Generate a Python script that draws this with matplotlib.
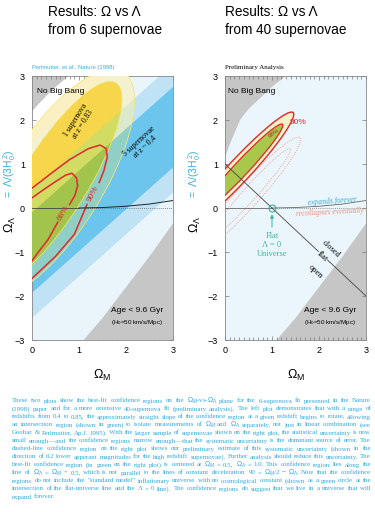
import numpy as np
import matplotlib.pyplot as plt
from matplotlib.patches import Polygon, Ellipse

plt.rcParams['font.family'] = ['Liberation Sans', 'DejaVu Sans']
plt.rcParams['mathtext.fontset'] = 'custom'
plt.rcParams['mathtext.rm'] = 'Liberation Sans'
plt.rcParams['mathtext.it'] = 'Liberation Sans:italic'

# ---- values (Omega_M, Omega_Lambda) ----
# "No Big Bang" boundary
nbb_m = [0.0, 0.1, 0.2, 0.32, 0.5, 0.8, 1.05, 1.3]
nbb_l = [1.15, 1.45, 1.7, 2.0, 2.25, 2.55, 2.8, 3.0]
# "Age < 9.6 Gyr" boundary
age_m = [1.1, 1.5, 2.0, 2.5, 3.0]
age_l = [-3.0, -2.5, -1.8, -1.1, -0.35]
# expands forever / recollapses eventually boundary
exp_m = [1.0, 1.5, 2.0, 2.5, 3.0]
exp_l = [0.0, 0.01, 0.04, 0.09, 0.17]
# flat universe line
flat_m = [0.0, 3.0]
flat_l = [1.0, -2.0]

# left: 5 supernovae at z~0.4, bands Omega_L = 0.95*Omega_M + c
band_slope = 0.95
band_lo = [-4.5, -2.5, -1.93]
band_hi = [1.5, 0.42, -0.1]
band_col = ['#e9f5fb', '#bfe3f5', '#6cc5ec']

# left: 1 supernova at z=0.83 (centre, angle, semi axes per level)
sn1_center = (0.45, 0.55)
sn1_angle = 60
sn1_major = [3.3, 2.95, 2.65]
sn1_minor = [1.3, 1.05, 0.72]
sn1_col = ['#ffffff', '#fbf0c4', '#fcd443']
# overlap colours [level][band]
mix_col = [[None, None, None],
           ['#f3f1d0', '#dbeacb', '#8fcfc6'],
           ['#f7d64b', '#d3dc62', '#a3c44c']]

# left: combined fit contours (split where the labels sit)
c68_m1 = [0.0, 0.25, 0.5, 0.72, 0.85, 0.95, 0.97, 0.91, 0.8]
c68_l1 = [0.23, 0.42, 0.6, 0.75, 0.79, 0.68, 0.5, 0.28, 0.08]
c68_m2 = [0.55, 0.34, 0.15, 0.0]
c68_l2 = [-0.32, -0.72, -0.98, -1.2]
c90_m1 = [0.0, 0.4, 0.8, 1.2, 1.45, 1.58, 1.6, 1.53, 1.43]
c90_l1 = [0.45, 0.78, 1.1, 1.35, 1.43, 1.35, 1.15, 0.85, 0.58]
c90_m2 = [1.17, 0.9, 0.5, 0.0]
c90_l2 = [0.08, -0.6, -1.1, -1.6]

# right: 40 supernovae fit (centre m, centre l, semi-major, semi-minor, angle)
fit90 = (0.3, 0.85, 1.75, 0.25, 49)
fit68 = (0.35, 0.9, 1.33, 0.16, 49)
sys90 = (0.5, 0.3, 1.7, 0.25, 50)
sys68 = (0.55, 0.35, 1.3, 0.15, 50)

W, H = 375, 512
fig = plt.figure(figsize=(W / 100, H / 100), dpi=100)


def px_axes(x0, x1, y0, y1):
    return fig.add_axes([x0 / W, 1 - y1 / H, (x1 - x0) / W, (y1 - y0) / H])


def style(ax):
    ax.set_xlim(0, 3)
    ax.set_ylim(-3, 3)
    ax.set_xticks([0, 1, 2, 3])
    ax.set_yticks([-3, -2, -1, 0, 1, 2, 3])
    ax.set_xticks(np.arange(0, 3.01, 0.1), minor=True)
    ax.tick_params(which='both', direction='in', top=True, right=True,
                   colors='#777777', labelcolor='black', labelsize=6.5, width=0.5)
    ax.tick_params(which='major', length=3, pad=4)
    ax.tick_params(which='minor', length=2)
    ax.tick_params(axis='y', pad=5)
    for s in ax.spines.values():
        s.set_color('#888888')
        s.set_linewidth(0.6)


def band_poly(lo, hi):
    s = band_slope
    return [(-1, -s + lo), (4, 4 * s + lo), (4, 4 * s + hi), (-1, -s + hi)]


nbb_poly = list(zip(nbb_m, nbb_l)) + [(nbb_m[-1], 3.5), (-0.5, 3.5), (-0.5, nbb_l[0])]
age_poly = list(zip(age_m, age_l)) + [(3.5, age_l[-1]), (3.5, -3.5), (age_m[0], -3.5)]

# ================= left panel =================
axL = px_axes(32, 173, 76, 340)
style(axL)
axL.set_facecolor('white')
axL.add_patch(Polygon(nbb_poly, closed=True, fc='#c6c6c6', ec='none', zorder=1))
axL.add_patch(Ellipse(sn1_center, 2 * sn1_major[0], 2 * sn1_minor[0], angle=sn1_angle,
                      fc=sn1_col[0], ec='none', zorder=1.5))
for lo, hi, c in zip(band_lo, band_hi, band_col):
    axL.add_patch(Polygon(band_poly(lo, hi), closed=True, fc=c, ec='none', zorder=2))
axL.add_patch(Polygon(age_poly, closed=True, fc='#c6c6c6', ec='none', zorder=3))

for lev in (1, 2):
    e = Ellipse(sn1_center, 2 * sn1_major[lev], 2 * sn1_minor[lev], angle=sn1_angle,
                fc=sn1_col[lev], ec='none', zorder=4 + lev)
    axL.add_patch(e)
    for b in range(3):
        clip = Polygon(band_poly(band_lo[b], band_hi[b]), closed=True, transform=axL.transData)
        eo = Ellipse(sn1_center, 2 * sn1_major[lev], 2 * sn1_minor[lev], angle=sn1_angle,
                     fc=mix_col[lev][b], ec='none', zorder=4.1 + lev + 0.1 * b)
        axL.add_patch(eo)
        eo.set_clip_path(clip)
    axL.add_patch(Ellipse(sn1_center, 2 * sn1_major[lev], 2 * sn1_minor[lev], angle=sn1_angle,
                          fill=False, ec='#f4e56c', lw=0.5, zorder=4.6 + lev))

red = '#e3262d'
for m, l in [(c68_m1, c68_l1), (c68_m2, c68_l2), (c90_m1, c90_l1), (c90_m2, c90_l2)]:
    axL.plot(m, l, color=red, lw=1.1, zorder=8)
axL.text(0.68, -0.12, '68%', color=red, fontsize=6, rotation=60, ha='center', va='center', zorder=9)
axL.text(1.3, 0.33, '90%', color=red, fontsize=6, rotation=63, ha='center', va='center', zorder=9)

axL.plot([0, 1], [0, 0], color='#444444', lw=0.6, zorder=8)
axL.plot([1, 3], [0, 0], color='#666666', lw=0.6, ls=(0, (1, 1.5)), zorder=8)
axL.plot(exp_m, exp_l, color='#222222', lw=0.7, zorder=8)

axL.text(0.1, 2.64, 'No Big Bang', fontsize=6, va='center', zorder=9)
axL.text(1.0, 1.95, '1 supernova\nat z = 0.83', fontsize=5.5, family='Liberation Serif',
         rotation=58, ha='center', va='center', ma='center', zorder=9, linespacing=1.1)
axL.text(2.34, 1.45, '5 supernovae\nat z ~ 0.4', fontsize=5.5, family='Liberation Serif',
         rotation=43, ha='center', va='center', ma='center', zorder=9, linespacing=1.1)
axL.text(2.24, -2.32, 'Age < 9.6 Gyr', fontsize=6, ha='center', va='center', zorder=9)
axL.text(2.24, -2.6, r'(H$_0$=50 km/s/Mpc)', fontsize=4.5, ha='center', va='center', zorder=9)

# ================= right panel =================
axR = px_axes(225, 366, 76, 340)
style(axR)
axR.set_facecolor('#eaf6fb')
axR.add_patch(Polygon(nbb_poly, closed=True, fc='#c6c6c6', ec='none', zorder=1))
axR.add_patch(Polygon(age_poly, closed=True, fc='#c6c6c6', ec='none', zorder=1))

for cm, cl, a, b, ang in (sys90, sys68):
    axR.add_patch(Ellipse((cm, cl), 2 * a, 2 * b, angle=ang, fill=False,
                          ec='#f2a39a', lw=0.7, ls=(0, (1, 1.2)), zorder=3))
cm, cl, a, b, ang = fit90
axR.add_patch(Ellipse((cm, cl), 2 * a, 2 * b, angle=ang, fc='#f6f1c6', ec=red, lw=1.0, zorder=4))
cm, cl, a, b, ang = fit68
axR.add_patch(Ellipse((cm, cl), 2 * a, 2 * b, angle=ang, fc='#a8c74b', ec=red, lw=0.9, zorder=5))
axR.text(1.55, 1.95, '90%', color=red, fontsize=6, ha='center', va='center', zorder=9)
axR.text(1.05, 1.7, '68%', color='#b0302a', fontsize=4.5, rotation=35, ha='center', va='center', zorder=9)

axR.plot([0, 1], [0, 0], color='#666666', lw=0.6, zorder=6)
axR.plot([1, 3], [0, 0], color='#777777', lw=0.6, ls=(0, (1, 1.5)), zorder=6)
axR.plot(exp_m, exp_l, color='#666666', lw=0.6, zorder=6)
axR.plot(flat_m, flat_l, color='#444444', lw=0.6, zorder=6)

teal = '#3bb3a3'
axR.plot([1], [0], marker='o', ms=5, mfc='none', mec=teal, mew=0.8, zorder=7)
axR.annotate('', xy=(1, -0.08), xytext=(1, -0.5),
             arrowprops=dict(arrowstyle='-|>', color=teal, lw=0.7, mutation_scale=5), zorder=7)
axR.text(1, -0.84, 'Flat\n\u039b = 0\nUniverse', color=teal, fontsize=6, family='Liberation Serif',
         ha='center', va='center', ma='center', linespacing=1.1, zorder=9)

axR.text(2.28, 0.16, 'expands forever', color='#35a7d9', fontsize=5.5, style='italic',
         family='Liberation Serif', rotation=4, ha='center', va='center', zorder=9)
axR.text(2.23, -0.09, 'recollapses eventually', color='#f08c76', fontsize=5.5, style='italic',
         family='Liberation Serif', rotation=3, ha='center', va='center', zorder=9)
for x, y, s in [(2.25, -0.92, 'closed'), (1.93, -1.45, 'open')]:
    axR.text(x, y, s, fontsize=6, family='Liberation Serif', rotation=-43,
             ha='center', va='center', zorder=9)
axR.text(2.07, -1.1, 'flat', fontsize=6, family='Liberation Serif', rotation=-43,
         ha='center', va='center', zorder=9,
         bbox=dict(fc='#eaf6fb', ec='none', pad=0.1))
axR.text(0.07, 2.64, 'No Big Bang', fontsize=6, va='center', zorder=9)
axR.text(2.24, -2.32, 'Age < 9.6 Gyr', fontsize=6, ha='center', va='center', zorder=9)
axR.text(2.24, -2.6, r'(H$_0$=50 km/s/Mpc)', fontsize=4.5, ha='center', va='center', zorder=9)

# ================= figure texts =================
def ftxt(x, y, s, **kw):
    return fig.text(x / W, 1 - y / H, s, **kw)


for x0, sub in [(48, 'from 6 supernovae'), (225, 'from 40 supernovae')]:
    ftxt(x0, 12, 'Results: \u03a9 vs \u039b', fontsize=9.8, va='center')
    ftxt(x0, 30, sub, fontsize=9.8, va='center')
ftxt(32, 67, 'Perlmutter, et al., Nature (1998)', fontsize=4.2, color='#3aaee0', va='center')
ftxt(225, 67, 'Preliminary Analysis', fontsize=5, family='Liberation Serif', va='center')

cyan = '#36aee0'
for xl, xc in [(10, 102), (195, 296)]:
    ftxt(xl, 224, r'$\Omega_\Lambda$', fontsize=9, rotation=90, ha='center', va='center')
    ftxt(xl, 174, r'$=\ \Lambda/(3\mathrm{H}_0^{\,2})$', fontsize=7.5, color=cyan,
         rotation=90, ha='center', va='center')
    ftxt(xc, 375, r'$\Omega_\mathrm{M}$', fontsize=9, ha='center', va='center')

caption = [
    "These two plots show the best-fit confidence regions on the $\\Omega_M$-vs-$\\Omega_\\Lambda$ plane for the 6-supernova fit presented in the Nature",
    "(1998) paper and for a more extensive 40-supernova fit (preliminary analysis). The left plot demonstrates that with a range of",
    "redshifts from 0.4 to 0.85, the approximately straight slope of the confidence region at a given redshift begins to rotate, allowing",
    "an intersection region (shown in green) to isolate measurements of $\\Omega_M$ and $\\Omega_\\Lambda$ separately, not just in linear combination (see",
    "Goobar & Perlmutter, Ap.J. 1995). With the larger sample of supernovae shown on the right plot, the statistical uncertainty is now",
    "small enough\u2014and the confidence regions narrow enough\u2014that the systematic uncertainty is the dominant source of error. The",
    "dashed-line confidence region on the right plot shows our preliminary estimate of this systematic uncertainty (shown in the",
    "direction of 0.2 lower apperant magnitudes for the high redshift supernovae). Further analysis should reduce this uncertainty. The",
    "best-fit confidence region (in green on the right plot) is centered at $\\Omega_M$ = 0.5, $\\Omega_\\Lambda$ = 1.0. This confidence region lies along the",
    "line of $\\Omega_\\Lambda$ = $\\Omega_M$ + 0.5, which is not parallel to the lines of constant deceleration q$_0$ = $\\Omega_M$/2 \u2212 $\\Omega_\\Lambda$. Note that the confidence",
    "regions do not include the \"standard model\" inflationary universe with no cosmological constant (shown as a green circle at the",
    "intersection of the flat-universe line and the \u039b = 0 line). The confidence regions do suggest that we live in a universe that will",
    "expand forever.",
]
cap_x0, cap_x1 = 12, 371
cap_kw = dict(family='Liberation Serif', color='#2fa9df', va='center', ha='left')
fig.canvas.draw()
renderer = fig.canvas.get_renderer()


def text_w(s, size):
    t = ftxt(0, 600, s, fontsize=size, **cap_kw)
    w = t.get_window_extent(renderer).width
    t.remove()
    return w


# word widths at 10 pt; the column width is set by the plain-text lines only
base = 10
word_w = [[text_w(w, base) for w in line.split(' ')] for line in caption]
space = text_w('a a', base) - text_w('aa', base)
natural = [sum(ws) + space * (len(ws) - 1)
           for line, ws in zip(caption[:-1], word_w[:-1]) if '$' not in line]
scale = (cap_x1 - cap_x0) / max(natural)
cap_size = base * scale

for i, line in enumerate(caption):
    y = 401 + 8 * i
    words = line.split(' ')
    ws = [w * scale for w in word_w[i]]
    if i == len(caption) - 1:
        gap = space * scale
    else:
        gap = max((cap_x1 - cap_x0 - sum(ws)) / (len(words) - 1), 0.5 * space * scale)
    x = cap_x0
    for w, wd in zip(words, ws):
        ftxt(x, y, w, fontsize=cap_size, **cap_kw)
        x += wd + gap

fig.savefig('out.png', dpi=100)
